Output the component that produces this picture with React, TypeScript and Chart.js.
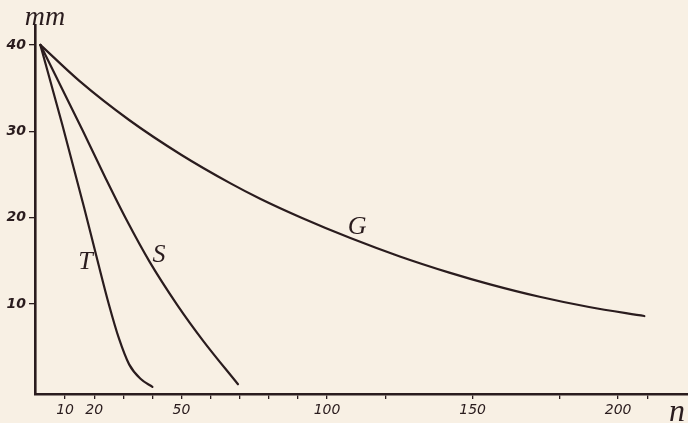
import React, { useEffect, useRef } from "react";
import { Chart, registerables } from "chart.js";

Chart.register(...registerables);

const xG = [1.5, 15, 32, 50, 67, 77, 91, 108, 125, 142, 156, 173, 190, 209];
const yG = [40, 35.8, 31.3, 27.25, 23.93, 22.18, 20.01, 17.63, 15.5, 13.63, 12.27, 10.83, 9.64, 8.6];
const xS = [1.5, 16, 24, 31, 39, 48.5, 57.5, 69.4];
const yS = [40, 30.1, 24.5, 19.8, 14.9, 9.9, 5.7, 0.7];
const xT = [1.5, 9, 16.5, 21, 25, 28.5, 32, 36, 40];
const yT = [40, 30.8, 21.2, 15.2, 10.0, 6.0, 3.0, 1.3, 0.4];

const xTickValues = [10, 20, 30, 40, 50, 60, 70, 80, 90, 100, 120, 150, 180, 200, 210];
const xTickLabels = ["10", "20", "", "", "50", "", "", "", "", "100", "", "150", "", "200", ""];
const yTickValues = [10, 20, 30, 40];
const yTickLabels = ["10", "20", "30", "40"];

const seriesNames = ["G", "S", "T"];
const axisTitleY = "mm";
const axisTitleX = "n";

const INK = "#2a1c1e";
const PAPER = "#f8f0e4";

function pts(xs: number[], ys: number[]) {
  return xs.map((x, i) => ({ x, y: ys[i] }));
}

export default function App() {
  const ref = useRef<HTMLCanvasElement | null>(null);

  useEffect(() => {
    document.body.style.margin = "0";
    document.body.style.background = PAPER;
    const canvas = ref.current!;
    const textPlugin = {
      id: "texts",
      beforeDraw(chart: any) {
        const c = chart.ctx;
        c.save();
        c.fillStyle = PAPER;
        c.fillRect(0, 0, chart.width, chart.height);
        c.restore();
      },
      afterDraw(chart: any) {
        const c = chart.ctx;
        const xs = chart.scales.x;
        const ys = chart.scales.y;
        c.save();
        c.fillStyle = INK;
        c.textAlign = "center";
        c.textBaseline = "alphabetic";
        c.font = "italic 28px 'Liberation Serif'";
        c.fillText(axisTitleY, 45, 25);
        c.font = "italic 32px 'Liberation Serif'";
        c.fillText(axisTitleX, 677, 421);
        c.textBaseline = "middle";
        c.font = "italic 26px 'Liberation Serif'";
        const lab = [
          { t: seriesNames[0], x: 110.3, y: 18.9 },
          { t: seriesNames[1], x: 42.3, y: 15.6 },
          { t: seriesNames[2], x: 17.0, y: 14.8 },
        ];
        lab.forEach((l) => {
          c.fillText(l.t, xs.getPixelForValue(l.x), ys.getPixelForValue(l.y));
        });
        c.restore();
      },
    };

    const chart = new Chart(canvas, {
      type: "line",
      data: {
        datasets: [
          { label: seriesNames[0], data: pts(xG, yG) },
          { label: seriesNames[1], data: pts(xS, yS) },
          { label: seriesNames[2], data: pts(xT, yT) },
        ].map((d) => ({
          ...d,
          borderColor: INK,
          borderWidth: 2.2,
          pointRadius: 0,
          fill: false,
          cubicInterpolationMode: "monotone" as const,
          borderCapStyle: "round" as const,
        })),
      },
      options: {
        animation: false,
        responsive: false,
        maintainAspectRatio: false,
        layout: { padding: { top: 25, right: 0, left: 0, bottom: 0 } },
        plugins: { legend: { display: false }, tooltip: { enabled: false } },
        scales: {
          x: {
            type: "linear",
            min: -0.34,
            max: 224,
            afterFit(scale: any) {
              scale.height = 29;
            },
            afterBuildTicks(scale: any) {
              scale.ticks = xTickValues.map((v) => ({ value: v }));
            },
            ticks: {
              autoSkip: false,
              maxRotation: 0,
              padding: 3,
              color: INK,
              font: { family: "'DejaVu Sans'", style: "italic", size: 14 },
              callback: (v: any) => {
                const i = xTickValues.indexOf(Number(v));
                return i >= 0 ? xTickLabels[i] : "";
              },
            },
            grid: {
              display: true,
              drawOnChartArea: false,
              drawTicks: true,
              tickLength: 5,
              color: INK,
              lineWidth: 1.3,
            },
            border: { display: true, color: INK, width: 2.6 },
          },
          y: {
            type: "linear",
            min: -0.43,
            max: 42.3,
            afterFit(scale: any) {
              scale.width = 35;
            },
            afterBuildTicks(scale: any) {
              scale.ticks = yTickValues.map((v) => ({ value: v }));
            },
            ticks: {
              autoSkip: false,
              padding: 3,
              color: INK,
              font: { family: "'DejaVu Sans'", style: "italic", size: 14, weight: "bold" },
              callback: (v: any) => {
                const i = yTickValues.indexOf(Number(v));
                return i >= 0 ? yTickLabels[i] : "";
              },
            },
            grid: {
              display: true,
              drawOnChartArea: false,
              drawTicks: true,
              tickLength: 6,
              color: INK,
              lineWidth: 1.3,
            },
            border: { display: true, color: INK, width: 2.6 },
          },
        },
      },
      plugins: [textPlugin],
    } as any);
    return () => chart.destroy();
  }, []);

  return (
    <div style={{ width: 688, height: 423, background: PAPER }}>
      <canvas ref={ref} width={688} height={423} style={{ display: "block" }} />
    </div>
  );
}
